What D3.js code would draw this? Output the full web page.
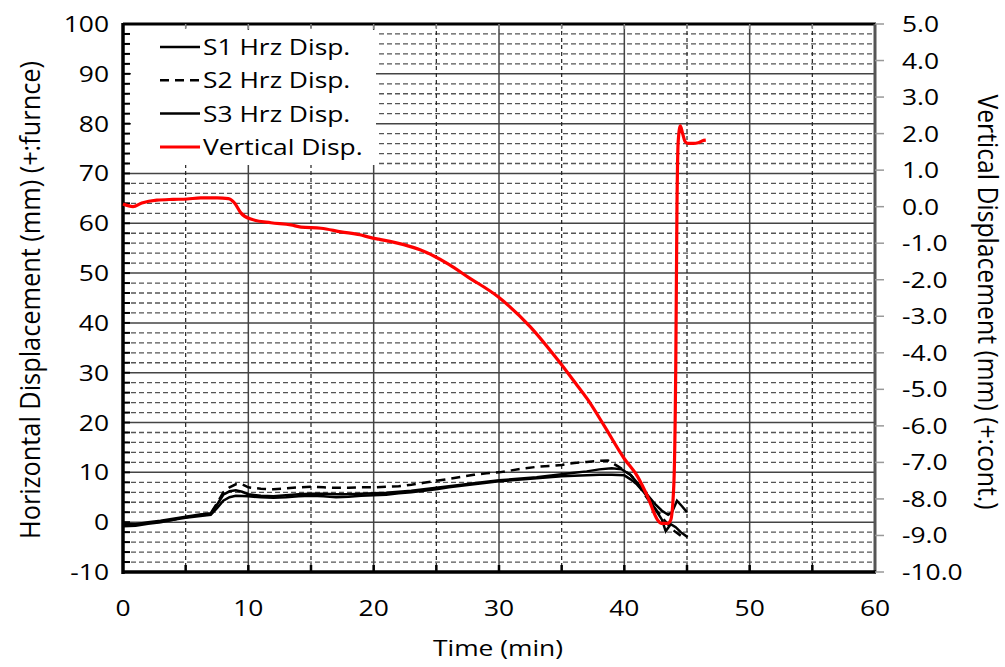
<!DOCTYPE html>
<html><head><meta charset="utf-8">
<script src="https://cdn.jsdelivr.net/npm/d3@7"></script>
<style>
body{margin:0;background:#fff;}
svg text{font-family:"Open Sans",sans-serif;fill:#000;}
</style></head>
<body><svg id="c" width="1005" height="667"></svg>
<script>
const xTicks = [0,10,20,30,40,50,60];
const leftTicks = [-10,0,10,20,30,40,50,60,70,80,90,100];
const rightTicks = [-10,-9,-8,-7,-6,-5,-4,-3,-2,-1,0,1,2,3,4,5];
const legendNames = ["S1 Hrz Disp.","S2 Hrz Disp.","S3 Hrz Disp.","Vertical Disp."];

const s1 = [[0,-0.8],[1,-0.7],[2,-0.3],[3,0],[4,0.5],[5,0.9],[6,1.2],[7,1.5],[7.5,2.8],[8,4.3],[8.5,5.0],[9,5.3],[10,5.2],[11,5.0],[12,4.9],[13,5.0],[14,5.2],[15,5.3],[16,5.2],[17,5.0],[18,5.1],[19,5.3],[20,5.4],[21,5.5],[22,5.8],[23,6.0],[24,6.3],[25,6.6],[26,7.0],[27,7.3],[28,7.6],[29,7.9],[30,8.2],[31,8.4],[32,8.6],[33,8.8],[34,9.0],[35,9.2],[36,9.3],[37,9.4],[38,9.5],[39,9.5],[40,9.4],[40.5,8.6],[41,7.6],[41.5,6.2],[42,4.5],[42.5,2.5],[43,0.5],[43.3,-1.8],[43.7,-0.4],[44.1,-1.0],[44.5,-2.0],[45.05,-3.0]];
const s2 = [[0,-0.5],[1,-0.5],[2,-0.2],[3,0.1],[4,0.5],[5,1.0],[6,1.4],[7,1.8],[7.5,3.8],[8,6.0],[8.5,7.0],[9,7.6],[9.5,7.6],[10,7.0],[11,6.7],[12,6.6],[13,6.8],[14,7.0],[15,7.1],[16,7.0],[17,6.9],[18,6.9],[19,7.0],[20,7.0],[21,7.1],[22,7.2],[23,7.5],[24,7.9],[25,8.3],[26,8.7],[27,9.1],[28,9.5],[29,9.8],[30,10.0],[31,10.4],[32,10.8],[33,11.1],[34,11.3],[35,11.5],[36,11.9],[37,12.1],[38,12.3],[38.7,12.4],[39.5,11.2],[40.5,9.5],[41,8.0],[41.5,6.0],[42,4.2],[42.5,2.6],[43,1.0],[43.5,-0.5],[44,-1.8],[44.5,-2.7]];
const s3 = [[0,-0.3],[1,-0.4],[2,0],[3,0.3],[4,0.7],[5,1.1],[6,1.5],[7,1.8],[7.5,3.5],[8,5.5],[8.5,6.2],[9,6.4],[9.5,6.1],[10,5.6],[11,5.3],[12,5.2],[13,5.4],[14,5.6],[15,5.7],[16,5.7],[17,5.6],[18,5.6],[19,5.7],[20,5.8],[21,5.9],[22,6.1],[23,6.3],[24,6.6],[25,6.9],[26,7.2],[27,7.5],[28,7.8],[29,8.1],[30,8.4],[31,8.6],[32,8.8],[33,9.0],[34,9.3],[35,9.6],[36,9.9],[37,10.2],[38,10.6],[39,10.8],[39.8,10.6],[40.5,9.5],[41,8.0],[41.5,6.5],[42,5.0],[42.5,3.5],[43,2.3],[43.5,1.5],[43.8,2.0],[44.2,4.3],[44.6,3.2],[45.0,2.0]];
const vert = [[0,0.07],[0.8,0.0],[1.5,0.1],[2.7,0.18],[4,0.2],[5.1,0.21],[6.2,0.24],[7.5,0.24],[8.4,0.22],[8.9,0.1],[9.4,-0.17],[10.2,-0.34],[11.8,-0.44],[13.4,-0.5],[14.2,-0.56],[15.8,-0.59],[17.4,-0.69],[18.9,-0.77],[19.7,-0.84],[20.4,-0.89],[21.3,-0.95],[22.4,-1.04],[23.7,-1.18],[24.8,-1.35],[26,-1.58],[27.5,-1.92],[29.9,-2.46],[32.5,-3.29],[34.7,-4.2],[35.9,-4.74],[37.1,-5.29],[38.4,-6.0],[40.0,-6.9],[41.06,-7.39],[41.86,-7.94],[42.66,-8.58],[42.93,-8.67],[43.46,-8.67],[43.7,-8.58],[43.95,-7.6],[44.1,-4.5],[44.2,0],[44.3,1.8],[44.47,2.21],[44.65,2.0],[44.85,1.78],[45.06,1.73],[45.5,1.73],[45.9,1.75],[46.2,1.8],[46.5,1.82]];

const svg = d3.select("#c");
const L=123, R=875, T=24, B=572;
const SX = 1.2, FS = 22;
const x = d3.scaleLinear().domain([0,60]).range([L,R]);
const yL = d3.scaleLinear().domain([-10,100]).range([B,T]);
const yR = d3.scaleLinear().domain([-10,5]).range([B,T]);

function htxt(px, py, s, anchor, size){
  return svg.append("text").attr("transform",`translate(${px},${py}) scale(${SX},1)`)
    .attr("text-anchor",anchor).attr("font-size",size||FS).text(s);
}
function vtxt(px, py, s, rot, len){
  return svg.append("text").attr("transform",`translate(${px},${py}) rotate(${rot}) scale(1,${SX})`)
    .attr("text-anchor","middle").attr("font-size",FS)
    .attr("textLength",len).attr("lengthAdjust","spacingAndGlyphs").text(s);
}

// grid
const g = svg.append("g");
d3.range(-10,101,2).forEach(v=>{
  if(v===-10||v===100) return;
  const major = v%10===0;
  g.append("line").attr("x1",L).attr("x2",R).attr("y1",yL(v)).attr("y2",yL(v))
   .attr("stroke", major?"#444":"#555").attr("stroke-width", major?1.5:1.3)
   .attr("stroke-dasharray", major?null:"5,3");
});
d3.range(5,60,5).forEach(t=>{
  const major = t%10===0;
  g.append("line").attr("x1",x(t)).attr("x2",x(t)).attr("y1",T).attr("y2",B)
   .attr("stroke", major?"#444":"#222").attr("stroke-width", major?1.5:1.2)
   .attr("stroke-dasharray", major?null:"4,3");
});

// axes frame
svg.append("line").attr("x1",L).attr("x2",R+1).attr("y1",T).attr("y2",T).attr("stroke","#000").attr("stroke-width",3);
svg.append("line").attr("x1",R).attr("x2",R).attr("y1",T).attr("y2",B).attr("stroke","#555").attr("stroke-width",3);
svg.append("line").attr("x1",L).attr("x2",L).attr("y1",T-1).attr("y2",B+2).attr("stroke","#000").attr("stroke-width",3.5);
svg.append("line").attr("x1",L-1).attr("x2",R+1).attr("y1",B).attr("y2",B).attr("stroke","#000").attr("stroke-width",3.5);

d3.range(-8,100,2).forEach(v=>{
  svg.append("line").attr("x1",L).attr("x2",L+7).attr("y1",yL(v)).attr("y2",yL(v)).attr("stroke","#000").attr("stroke-width",2);
});
d3.range(5,60,5).forEach(t=>{
  svg.append("line").attr("x1",x(t)).attr("x2",x(t)).attr("y1",B).attr("y2",B-7).attr("stroke","#000").attr("stroke-width",2.5);
});
d3.range(5,60,5).forEach(t=>{
  svg.append("line").attr("x1",x(t)).attr("x2",x(t)).attr("y1",T).attr("y2",T+5).attr("stroke","#888").attr("stroke-width",1.5);
});
rightTicks.forEach(v=>{
  svg.append("line").attr("x1",R).attr("x2",R+9).attr("y1",yR(v)).attr("y2",yR(v)).attr("stroke","#999").attr("stroke-width",1.5);
});

// tick labels
leftTicks.forEach(v=>{ htxt(L-14, yL(v)+8, String(v), "end"); });
xTicks.forEach(t=>{ htxt(x(t), B+44, String(t), "middle"); });
rightTicks.forEach(v=>{ htxt(902, yR(v)+8, d3.format(".1f")(v).replace("\u2212","-"), "start"); });

// axis titles
vtxt(40, 300, "Horizontal Displacement (mm) (+:furnce)", -90, 478);
vtxt(978, 302, "Vertical Displacement (mm) (+:cont.)", 90, 415);
htxt(498, 656, "Time (min)", "middle");

// series
const lineL = d3.line().x(d=>x(d[0])).y(d=>yL(d[1]));
const lineR = d3.line().x(d=>x(d[0])).y(d=>yR(d[1])).curve(d3.curveMonotoneX);
const plot = svg.append("g");
plot.append("path").datum(s1).attr("d",lineL).attr("fill","none").attr("stroke","#000").attr("stroke-width",2.5);
plot.append("path").datum(s3).attr("d",lineL).attr("fill","none").attr("stroke","#000").attr("stroke-width",2.5);
plot.append("path").datum(s2).attr("d",lineL).attr("fill","none").attr("stroke","#000").attr("stroke-width",2.5).attr("stroke-dasharray","9,6");
plot.append("path").datum(vert).attr("d",lineR).attr("fill","none").attr("stroke","#ff0000").attr("stroke-width",3.2).attr("stroke-linejoin","round");

// legend
const lg = svg.append("g");
lg.append("rect").attr("x",131).attr("y",30).attr("width",245).attr("height",135).attr("fill","#fff");
const styles = [{c:"#000",d:null},{c:"#000",d:"9,6"},{c:"#000",d:null},{c:"#ff0000",d:null}];
legendNames.forEach((n,i)=>{
  const yy = 47 + i*33.3;
  lg.append("line").attr("x1",160).attr("x2",200).attr("y1",yy).attr("y2",yy).attr("stroke",styles[i].c).attr("stroke-width",i===3?3:2.5).attr("stroke-dasharray",styles[i].d);
  lg.append("text").attr("transform",`translate(203,${yy+8}) scale(${SX},1)`).attr("font-size",FS).text(n);
});
</script></body></html>
